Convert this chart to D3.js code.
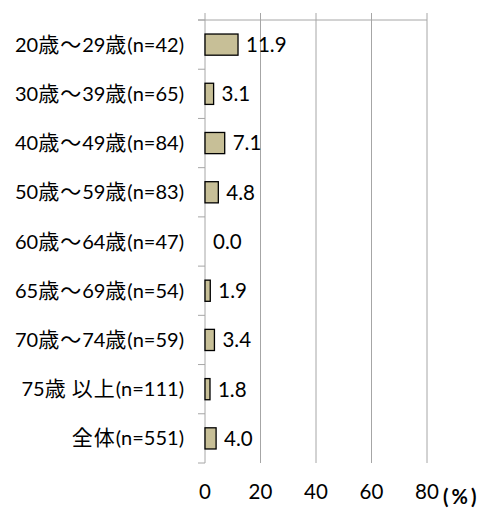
<!DOCTYPE html>
<html><head><meta charset="utf-8">
<script src="https://cdn.jsdelivr.net/npm/d3@7"></script>
<style>
html,body{margin:0;padding:0;background:#fff;}
svg text{font-family:"Lato","Noto Sans CJK JP",sans-serif;fill:#000;}
</style></head>
<body><svg id="c" width="486" height="508"></svg>
<script>
const categories = ["20歳～29歳(n=42)","30歳～39歳(n=65)","40歳～49歳(n=84)","50歳～59歳(n=83)","60歳～64歳(n=47)","65歳～69歳(n=54)","70歳～74歳(n=59)","75歳 以上(n=111)","全体(n=551)"];
const values = [11.9, 3.1, 7.1, 4.8, 0.0, 1.9, 3.4, 1.8, 4.0];
const xTicks = [0, 20, 40, 60, 80];
const unitLabel = "(%)";

const svg = d3.select("#c");
const x = d3.scaleLinear().domain([0, 80]).range([205, 427]);
const y = d3.scaleBand().domain(categories).range([20, 463]).paddingInner(0.57).paddingOuter(0.285);
const step = y.step();
const grid = "#a6a6a6";
const rows = categories.map((c, i) => ({c, v: values[i]}));

// vertical gridlines
svg.append("g").selectAll("line").data(xTicks).join("line")
  .attr("x1", d => x(d)).attr("x2", d => x(d))
  .attr("y1", 13).attr("y2", 463)
  .attr("stroke", grid).attr("stroke-width", 1);
// top border
svg.append("line").attr("x1", 198).attr("x2", x(80)).attr("y1", 20).attr("y2", 20)
  .attr("stroke", grid).attr("stroke-width", 1);
// left axis ticks at band boundaries
svg.append("g").selectAll("line").data(d3.range(categories.length + 1)).join("line")
  .attr("x1", 198).attr("x2", x(0))
  .attr("y1", i => 20 + i * step).attr("y2", i => 20 + i * step)
  .attr("stroke", grid).attr("stroke-width", 1);

// bars
svg.append("g").selectAll("rect").data(rows.filter(d => d.v > 0)).join("rect")
  .attr("x", x(0)).attr("y", d => y(d.c))
  .attr("width", d => x(d.v) - x(0))
  .attr("height", y.bandwidth())
  .attr("fill", "#c7bf97").attr("stroke", "#000").attr("stroke-width", 1.3);

// value labels
svg.append("g").selectAll("text").data(rows).join("text")
  .attr("x", d => x(d.v) + 8).attr("y", d => y(d.c) + y.bandwidth() / 2)
  .attr("dy", "0.36em").attr("font-size", 20.5)
  .text(d => d.v.toFixed(1));

// category labels: CJK runs in CJK font
const cjk = /[\u3000-\u9fff\uff00-\uffef]/;
function runs(s) {
  const out = [];
  for (const ch of s) {
    const k = cjk.test(ch) ? "j" : "l";
    if (out.length && out[out.length - 1].k === k) out[out.length - 1].t += ch;
    else out.push({k, t: ch});
  }
  return out;
}
const cl = svg.append("g").selectAll("text").data(categories).join("text")
  .attr("x", 184).attr("y", d => y(d) + y.bandwidth() / 2 + 7)
  .attr("text-anchor", "end");
cl.selectAll("tspan").data(d => runs(d)).join("tspan")
  .attr("font-size", r => r.k === "j" ? 21 : 20)
  .attr("font-family", r => r.k === "j" ? "Noto Sans CJK JP" : "Lato")
  .attr("letter-spacing", r => r.k === "j" ? 1 : 0)
  .text(r => r.t);

// x tick labels
svg.append("g").selectAll("text").data(xTicks).join("text")
  .attr("x", d => x(d)).attr("y", 499)
  .attr("text-anchor", "middle").attr("font-size", 20.5)
  .text(d => d);
svg.append("text").attr("x", 443).attr("y", 504).attr("font-size", 20).attr("font-weight", "bold")
  .attr("letter-spacing", 3)
  .text(unitLabel);
</script></body></html>
